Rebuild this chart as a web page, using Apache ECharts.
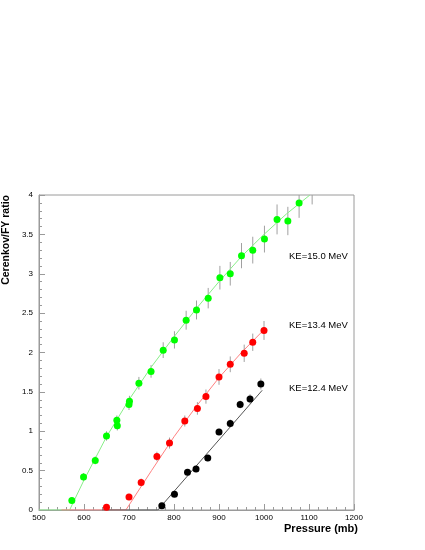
<!DOCTYPE html>
<html>
<head>
<meta charset="utf-8">
<script src="https://cdn.jsdelivr.net/npm/echarts@6/dist/echarts.min.js"></script>
<style>
	html, body { margin: 0; padding: 0; background: #fff; }
	#chart { width: 425px; height: 550px; }
</style>
</head>
<body>
<div id="chart"></div>
<script>
// 测量点: [压力(mb), 比值, 误差]
const green150 = [
	[573, 0.12, 0.04], [599, 0.42, 0.05], [625, 0.63, 0.05], [650, 0.94, 0.06],
	[674, 1.07, 0.06], [673, 1.14, 0.06], [700, 1.34, 0.07], [701, 1.38, 0.07],
	[722, 1.61, 0.08], [749, 1.76, 0.08], [776, 2.03, 0.1], [801, 2.16, 0.11],
	[827, 2.41, 0.12], [850, 2.54, 0.12], [876, 2.69, 0.13], [902, 2.95, 0.15],
	[925, 3.0, 0.15], [950, 3.23, 0.16], [975, 3.3, 0.17], [1001, 3.44, 0.17],
	[1029, 3.69, 0.19], [1053, 3.67, 0.18], [1078, 3.9, 0.19], [1107, 4.08, 0.2]
];
const red134 = [
	[650, 0.034, 0.03], [700, 0.165, 0.04], [727, 0.35, 0.05], [762, 0.68, 0.06],
	[790, 0.85, 0.07], [824, 1.13, 0.07], [852, 1.29, 0.08], [871, 1.44, 0.09],
	[900, 1.69, 0.1], [925, 1.85, 0.1], [956, 1.99, 0.11], [975, 2.13, 0.11],
	[1000, 2.28, 0.12]
];
const black124 = [
	[773, 0.055, 0.03], [801, 0.2, 0.03], [830, 0.48, 0.03], [849, 0.52, 0.04],
	[875, 0.66, 0.04], [900, 0.99, 0.04], [925, 1.1, 0.05], [947, 1.34, 0.05],
	[969, 1.41, 0.06], [993, 1.6, 0.07]
];
// 拟合曲线
const greenFit = [
	[500, 0], [568, 0], [600, 0.38], [650, 0.93], [700, 1.4], [750, 1.82], [800, 2.2],
	[850, 2.56], [900, 2.9], [950, 3.22], [1000, 3.5], [1050, 3.76], [1102, 4.0]
];
const redFit = [
	[550, 0], [693, 0], [750, 0.5], [800, 0.93], [850, 1.32], [900, 1.68], [950, 2.0], [1000, 2.29]
];
const blackFit = [[640, 0], [764, 0], [996, 1.52]];
const xTicks = [500, 600, 700, 800, 900, 1000, 1100, 1200];
const yTicks = [0, 0.5, 1, 1.5, 2, 2.5, 3, 3.5, 4];
const keLabels = ['KE=15.0 MeV', 'KE=13.4 MeV', 'KE=12.4 MeV'];

const font = 'Liberation Sans, Arial, sans-serif';
const axisGray = '#9a9a9a';

const chart = echarts.init(document.getElementById('chart'));

// 误差棒
const errorSeries = (data) => ({
	type: 'custom',
	data: data,
	clip: true,
	silent: true,
	z: 1,
	renderItem: (params, api) => {
		const x = api.value(0), y = api.value(1), e = api.value(2);
		const p1 = api.coord([x, y - e]);
		const p2 = api.coord([x, y + e]);
		return {
			type: 'line',
			shape: { x1: p1[0], y1: p1[1], x2: p2[0], y2: p2[1] },
			style: { stroke: '#a0a0a0', lineWidth: 1 }
		};
	}
});
const pointSeries = (data, color) => ({
	type: 'scatter',
	data: data.map(d => [d[0], d[1]]),
	symbol: 'circle',
	symbolSize: 7,
	clip: true,
	silent: true,
	z: 5,
	itemStyle: { color: color, opacity: 1 }
});
const fitSeries = (data, color, z) => ({
	type: 'line',
	data: data,
	showSymbol: false,
	clip: true,
	silent: true,
	z: z,
	lineStyle: { color: color, width: 1 }
});

const option = {
	animation: false,
	backgroundColor: '#fff',
	grid: {
		left: 39, right: 71, top: 195, bottom: 40,
		show: true, borderColor: axisGray, borderWidth: 1
	},
	xAxis: {
		type: 'value',
		min: 500, max: 1200, interval: 100,
		axisLine: { show: true, lineStyle: { color: axisGray } },
		axisTick: { show: true, inside: true, length: 6, lineStyle: { color: axisGray } },
		minorTick: { show: true, splitNumber: 5, length: 3, lineStyle: { color: axisGray } },
		splitLine: { show: false },
		axisLabel: {
			color: '#000', fontSize: 8, fontFamily: font, margin: 4,
			formatter: v => xTicks.includes(v) ? String(v) : ''
		}
	},
	yAxis: {
		type: 'value',
		min: 0, max: 4, interval: 0.5,
		axisLine: { show: true, lineStyle: { color: axisGray } },
		axisTick: { show: true, inside: true, length: 6, lineStyle: { color: axisGray } },
		minorTick: { show: true, splitNumber: 5, length: 3, lineStyle: { color: axisGray } },
		splitLine: { show: false },
		axisLabel: {
			color: '#000', fontSize: 8, fontFamily: font, margin: 6,
			formatter: v => yTicks.includes(v) ? String(v) : ''
		}
	},
	graphic: [
		{
			type: 'text', left: 289, top: 251,
			style: { text: keLabels[0], fill: '#000', font: '9.5px ' + font }
		},
		{
			type: 'text', left: 289, top: 320,
			style: { text: keLabels[1], fill: '#000', font: '9.5px ' + font }
		},
		{
			type: 'text', left: 289, top: 383,
			style: { text: keLabels[2], fill: '#000', font: '9.5px ' + font }
		},
		{
			type: 'text', right: 67, top: 523,
			style: { text: 'Pressure (mb)', fill: '#000', font: 'bold 11px ' + font }
		},
		{
			type: 'text', x: 12, y: 195, rotation: Math.PI / 2,
			style: { text: 'Cerenkov/FY ratio', fill: '#000', font: 'bold 10.5px ' + font, align: 'right', verticalAlign: 'bottom' }
		}
	],
	series: [
		fitSeries(greenFit, '#88ee88', 2),
		fitSeries(redFit, '#ff8080', 3),
		fitSeries(blackFit, '#555555', 4),
		errorSeries(green150),
		errorSeries(red134),
		errorSeries(black124),
		pointSeries(green150, '#00ff00'),
		pointSeries(red134, '#ff0000'),
		pointSeries(black124, '#000000')
	]
};
chart.setOption(option);
</script>
</body>
</html>
